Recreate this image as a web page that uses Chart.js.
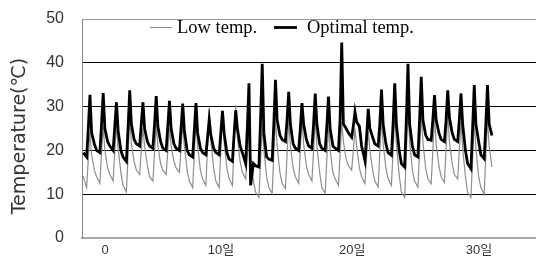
<!DOCTYPE html>
<html>
<head>
<meta charset="utf-8">
<script src="https://cdn.jsdelivr.net/npm/chart.js@4/dist/chart.umd.min.js"></script>
<style>
  body { margin: 0; background: #fff; }
  #wrap { width: 536px; height: 257px; position: relative; }
</style>
</head>
<body>
<div id="wrap"><canvas id="Chart"></canvas></div>
<script>
// readings per day, taken at these hours
var HOURS = [0, 6, 9, 12, 15, 20];

// Low temp. (grey), 6 values per day, day 0 .. 30
var LOW_TEMP = [
  14, 11.5, 18, 24, 19, 15.5,
  14, 12.5, 19.5, 25.5, 20, 16,
  14.5, 13, 20, 26, 20.5, 15,
  12, 10.5, 19, 28, 21.5, 17.5,
  15.5, 14.5, 20, 25, 21, 16.5,
  14, 13, 19.5, 26, 21, 17,
  15.5, 14.5, 20, 25, 21, 17.5,
  16, 15, 20.5, 26, 21, 15.5,
  13, 11.5, 19, 27, 21, 15.5,
  13.5, 12, 21, 29.5, 22, 16,
  13, 11.5, 20, 28.5, 22, 16,
  13.5, 12, 21, 30.3, 23, 17.5,
  15, 13.5, 19, 24, 18, 13,
  10.5, 9.3, 17.5, 26, 20, 14,
  11.5, 10.2, 19, 27.5, 21, 15,
  12.5, 11.3, 19, 27, 21, 16,
  14, 12.5, 20, 27.5, 21.5, 16.5,
  14.5, 13, 20, 27, 21, 15,
  11.5, 10.2, 18, 25.5, 20, 15,
  13.5, 12, 19, 26.5, 22, 18,
  16.5, 15.5, 20, 25, 21, 16,
  14, 12.5, 18.5, 24.5, 20, 15.5,
  13, 11.6, 19.5, 27, 21.5, 16,
  13.5, 12, 20, 28, 21.5, 14.5,
  10.5, 9.3, 19.5, 30, 22, 15.5,
  13, 11.6, 20, 28.4, 22, 16,
  13.5, 12.4, 20, 27.6, 21.5, 16.5,
  14, 12.7, 20.5, 28.4, 22, 17,
  14.5, 13.5, 20, 26.5, 20.5, 14,
  10.5, 9.3, 18, 26.9, 20.5, 14,
  11.5, 10, 19, 27, 21, 16.2
];

// Optimal temp. (black)
var OPT_TEMP = [
  19.5, 18.5, 25, 32.7, 24, 21.5,
  20, 19.5, 26, 33.1, 25, 22,
  21, 20, 25.5, 31, 24.5, 20,
  18.5, 17.5, 25, 33.7, 26, 22.5,
  21.5, 21, 26, 31, 25, 22,
  21, 20.5, 26, 32.4, 25.5, 22,
  20.5, 20, 25.5, 31.3, 25, 21.5,
  20.5, 20, 25, 30.7, 24.5, 20,
  19, 18.5, 24.5, 30.8, 24, 20.5,
  19.5, 19, 23, 27, 23.5, 20.5,
  19.5, 19, 24, 29, 24, 19.5,
  18, 17.5, 23.5, 29.2, 25, 21,
  19.5, 17, 25, 35.3, 12, 17,
  16.5, 16.2, 27, 39.8, 24, 18.5,
  18, 17.7, 26, 36.1, 27, 23.5,
  22.5, 22, 27, 33.4, 26, 21.5,
  20.5, 20, 25, 30.8, 26, 22.5,
  21, 20.5, 26, 33, 26, 21.5,
  20.5, 20, 25.5, 32.3, 25, 21,
  20.5, 20, 27, 44.6, 26, 25,
  24, 23, 25.5, 28.8, 26.5, 25.5,
  21, 17.7, 23, 29.5, 25, 23,
  21.5, 21, 26, 33.9, 26, 21.5,
  19.5, 18.9, 26, 35.3, 26, 20,
  17, 16.2, 27, 39.8, 26, 21,
  19, 18.5, 27, 36.8, 27, 23.5,
  22.5, 22.3, 27, 32.6, 27, 24,
  22.5, 22, 27, 33.7, 27.5, 24,
  22.5, 22, 27, 33, 26, 20,
  17, 15.8, 25, 34.9, 26, 22,
  19, 18.1, 26, 34.9, 26, 23.4
];

var SERIES_LABELS = ['Low temp.', 'Optimal temp.'];
var TICK_POS = [1.64, 10.38, 20.3, 29.86];
var TICK_LABELS = ['0', '10일', '20일', '30일'];
var Y_TITLE = 'Temperature(℃)';

function toPoints(vals) {
    return vals.map(function(v, i) {
        var day = Math.floor(i / HOURS.length);
        return { x: day + HOURS[i % HOURS.length] / 24, y: v };
    });
}

// legend inside the plot under the top border, plus the y title
var extras = {
    id: 'extras',
    afterDraw: function(chart) {
        var ctx = chart.ctx, a = chart.chartArea;
        var items = [
            { ds: chart.data.datasets[0], x0: a.left + 68, x1: a.left + 90, tx: a.left + 95 },
            { ds: chart.data.datasets[1], x0: a.left + 192, x1: a.left + 215, tx: a.left + 225 }
        ];
        ctx.save();
        ctx.font = '18.5px "Liberation Serif", "Times New Roman", serif';
        ctx.textBaseline = 'alphabetic';
        ctx.fillStyle = '#000';
        items.forEach(function(it) {
            ctx.strokeStyle = it.ds.borderColor;
            ctx.lineWidth = it.ds.borderWidth;
            ctx.beginPath();
            ctx.moveTo(it.x0, a.top + 8.5);
            ctx.lineTo(it.x1, a.top + 8.5);
            ctx.stroke();
            ctx.fillText(it.ds.label, it.tx, a.top + 14);
        });
        ctx.restore();

        ctx.save();
        ctx.translate(20, a.top + 117);
        ctx.rotate(-Math.PI / 2);
        ctx.font = '19px "DejaVu Sans", sans-serif';
        ctx.fillStyle = '#333';
        ctx.textAlign = 'center';
        ctx.textBaseline = 'middle';
        ctx.fillText(Y_TITLE, 0, 0);
        ctx.restore();
    }
};

var chart = new Chart(document.getElementById('Chart').getContext('2d'), {
    type: 'line',
    data: {
        datasets: [{
            label: SERIES_LABELS[0],
            data: toPoints(LOW_TEMP),
            borderColor: '#8e8e8e',
            borderWidth: 1.2,
            pointRadius: 0,
            order: 1
        }, {
            label: SERIES_LABELS[1],
            data: toPoints(OPT_TEMP),
            borderColor: '#000',
            borderWidth: 2.8,
            pointRadius: 0,
            order: 0
        }]
    },
    options: {
        responsive: true,
        maintainAspectRatio: false,
        animation: false,
        layout: { padding: { top: 19, right: 0, bottom: 0, left: 0 } },
        plugins: { legend: { display: false }, tooltip: { enabled: false } },
        scales: {
            x: {
                type: 'linear',
                min: -0.1,
                max: 34.16,
                afterFit: function(s) {
                    s.height = 19;
                    s.paddingLeft = 0;
                    s.paddingRight = 0;
                },
                afterBuildTicks: function(s) {
                    s.ticks = TICK_POS.map(function(v) { return { value: v }; });
                },
                grid: { display: false, drawTicks: false },
                border: { color: '#a8a8a8', width: 2 },
                ticks: {
                    autoSkip: false,
                    maxRotation: 0,
                    padding: 5,
                    color: '#333',
                    font: { family: '"Liberation Sans", "Noto Sans CJK KR", sans-serif', size: 13 },
                    callback: function(v, i) { return TICK_LABELS[i]; }
                }
            },
            y: {
                min: 0,
                max: 50,
                afterFit: function(s) {
                    s.width = 82;
                    s.paddingTop = 0;
                    s.paddingBottom = 0;
                },
                grid: {
                    drawTicks: false,
                    color: function(c) {
                        if (c.tick.value === 50) return '#9a9a9a';
                        if (c.tick.value === 0) return 'rgba(0,0,0,0)';
                        return '#000';
                    }
                },
                border: { color: '#888', width: 1 },
                ticks: {
                    stepSize: 10,
                    padding: 18,
                    color: '#333',
                    font: { family: '"Liberation Sans", Arial, sans-serif', size: 16 }
                }
            }
        }
    },
    plugins: [extras]
});
</script>
</body>
</html>
